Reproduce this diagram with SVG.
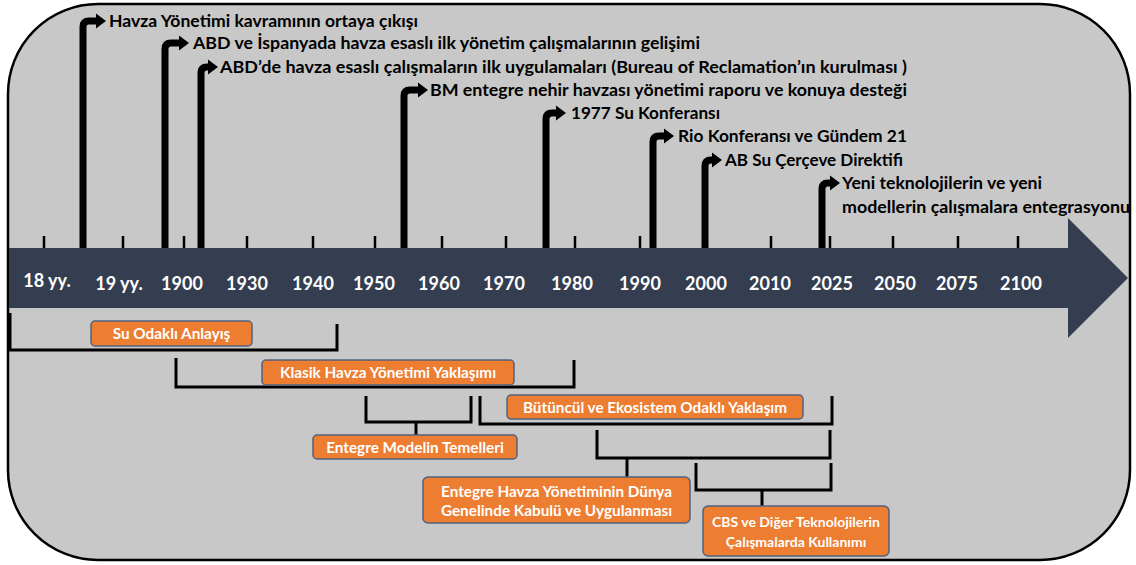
<svg xmlns="http://www.w3.org/2000/svg" width="1136" height="565" viewBox="0 0 1136 565">
<style>
.lbl{font-family:Lato,"Liberation Sans",sans-serif;font-weight:700;font-size:17px;fill:#000}
.yr{font-family:Lato,"Liberation Sans",sans-serif;font-weight:700;font-size:18px;fill:#fff;text-anchor:middle}
.bx{fill:#ed7d31;stroke:#52627f;stroke-width:1.5}
.bt{font-family:Lato,"Liberation Sans",sans-serif;font-weight:700;font-size:15.3px;fill:#fff;text-anchor:middle}
.ev{fill:none;stroke:#000;stroke-width:7;marker-end:url(#ah)}
.tk{stroke:#000;stroke-width:2.5}
.br{fill:none;stroke:#000;stroke-width:3}
</style>
<defs>
<marker id="ah" markerUnits="userSpaceOnUse" markerWidth="11" markerHeight="16" refX="0" refY="7.5" orient="0" overflow="visible">
<path d="M0,0 L10,7.5 L0,15 Z" fill="#000"/>
</marker>
</defs>
<rect id="frame" x="8" y="4" width="1122" height="556" rx="90" ry="90" fill="#c8c8c8" stroke="#000" stroke-width="2.5"/>
<g id="axis">
<g class="tk">
<line x1="44" y1="236" x2="44" y2="249"/><line x1="123" y1="236" x2="123" y2="249"/><line x1="184" y1="236" x2="184" y2="249"/><line x1="247" y1="236" x2="247" y2="249"/><line x1="313" y1="236" x2="313" y2="249"/><line x1="375" y1="236" x2="375" y2="249"/><line x1="442" y1="236" x2="442" y2="249"/><line x1="506" y1="236" x2="506" y2="249"/><line x1="575" y1="236" x2="575" y2="249"/><line x1="640" y1="236" x2="640" y2="249"/><line x1="771" y1="236" x2="771" y2="249"/><line x1="830" y1="236" x2="830" y2="249"/><line x1="893" y1="236" x2="893" y2="249"/><line x1="958" y1="236" x2="958" y2="249"/><line x1="1018" y1="236" x2="1018" y2="249"/>
</g>
<path d="M9,248 H1068 V218 L1128,278 L1068,338 V308 H9 Z" fill="#343e50"/>
<text class="yr" x="47" y="287">18 yy.</text>
<text class="yr" x="119" y="290">19 yy.</text>
<text class="yr" x="182" y="290">1900</text>
<text class="yr" x="247" y="290">1930</text>
<text class="yr" x="313" y="290">1940</text>
<text class="yr" x="374" y="290">1950</text>
<text class="yr" x="439" y="290">1960</text>
<text class="yr" x="504" y="290">1970</text>
<text class="yr" x="572" y="290">1980</text>
<text class="yr" x="640" y="290">1990</text>
<text class="yr" x="706" y="290">2000</text>
<text class="yr" x="770" y="290">2010</text>
<text class="yr" x="832" y="290">2025</text>
<text class="yr" x="895" y="290">2050</text>
<text class="yr" x="957" y="290">2075</text>
<text class="yr" x="1021" y="290">2100</text>
</g>
<g id="connectors">
<path class="ev" d="M83,248 V27 Q83,21 89,21 H96"/>
<path class="ev" d="M165,248 V49 Q165,43 171,43 H179"/>
<path class="ev" d="M201,248 V73 Q201,67 207,67 H208"/>
<path class="ev" d="M404,248 V96 Q404,90 410,90 H418"/>
<path class="ev" d="M546,248 V119 Q546,113 552,113 H556"/>
<path class="ev" d="M653,248 V142 Q653,136 659,136 H664"/>
<path class="ev" d="M705,248 V166 Q705,160 711,160 H712"/>
<path class="ev" d="M822,248 V189 Q822,183 828,183 H830"/>
<path class="br" d="M10,313 V350 H337 V324"/>
<path class="br" d="M176,358 V387 H574 V360"/>
<path class="br" d="M366,396 V422 H471 V396 M416,422 V435"/>
<path class="br" d="M480,396 V424 H832 V396"/>
<path class="br" d="M597,430 V458 H830 V430 M627,458 V477"/>
<path class="br" d="M696,463 V490 H831 V463 M762,490 V506"/>
</g>
<g id="event1"><text class="lbl" x="109" y="27" textLength="309" lengthAdjust="spacingAndGlyphs">Havza Yönetimi kavramının ortaya çıkışı</text></g>
<g id="event2"><text class="lbl" x="193" y="49" textLength="507" lengthAdjust="spacingAndGlyphs">ABD ve İspanyada havza esaslı ilk yönetim çalışmalarının gelişimi</text></g>
<g id="event3"><text class="lbl" x="220" y="73" textLength="687" lengthAdjust="spacingAndGlyphs">ABD’de havza esaslı çalışmaların ilk uygulamaları (Bureau of Reclamation’ın kurulması )</text></g>
<g id="event4"><text class="lbl" x="430" y="96" textLength="477" lengthAdjust="spacingAndGlyphs">BM entegre nehir havzası yönetimi raporu ve konuya desteği</text></g>
<g id="event5"><text class="lbl" x="571" y="119" textLength="149" lengthAdjust="spacingAndGlyphs">1977 Su Konferansı</text></g>
<g id="event6"><text class="lbl" x="678" y="142" textLength="229" lengthAdjust="spacingAndGlyphs">Rio Konferansı ve Gündem 21</text></g>
<g id="event7"><text class="lbl" x="725" y="166" textLength="178" lengthAdjust="spacingAndGlyphs">AB Su Çerçeve Direktifi</text></g>
<g id="event8"><text class="lbl" x="842" y="189" textLength="200" lengthAdjust="spacingAndGlyphs">Yeni teknolojilerin ve yeni</text><text class="lbl" x="842" y="213" textLength="288" lengthAdjust="spacingAndGlyphs">modellerin çalışmalara entegrasyonu</text></g>
<g id="box-su"><rect class="bx" x="91" y="321" width="161" height="25" rx="4"/><text class="bt" x="171.5" y="339">Su Odaklı Anlayış</text></g>
<g id="box-klasik"><rect class="bx" x="262" y="360" width="252" height="25" rx="4"/><text class="bt" x="388" y="378">Klasik Havza Yönetimi Yaklaşımı</text></g>
<g id="box-temel"><rect class="bx" x="313" y="435" width="204" height="24" rx="4"/><text class="bt" x="415" y="452.5">Entegre Modelin Temelleri</text></g>
<g id="box-butuncul"><rect class="bx" x="507" y="395" width="296" height="24" rx="4"/><text class="bt" x="655" y="412.5">Bütüncül ve Ekosistem Odaklı Yaklaşım</text></g>
<g id="box-entegre"><rect class="bx" x="423" y="477" width="267" height="46" rx="5"/><text class="bt" x="556.5" y="497">Entegre Havza Yönetiminin Dünya</text><text class="bt" x="556.5" y="516">Genelinde Kabulü ve Uygulanması</text></g>
<g id="box-cbs"><rect class="bx" x="703" y="506" width="186" height="50" rx="5"/><text class="bt" x="796" y="527" style="font-size:14px">CBS ve Diğer Teknolojilerin</text><text class="bt" x="796" y="547" style="font-size:14px">Çalışmalarda Kullanımı</text></g>
</svg>
